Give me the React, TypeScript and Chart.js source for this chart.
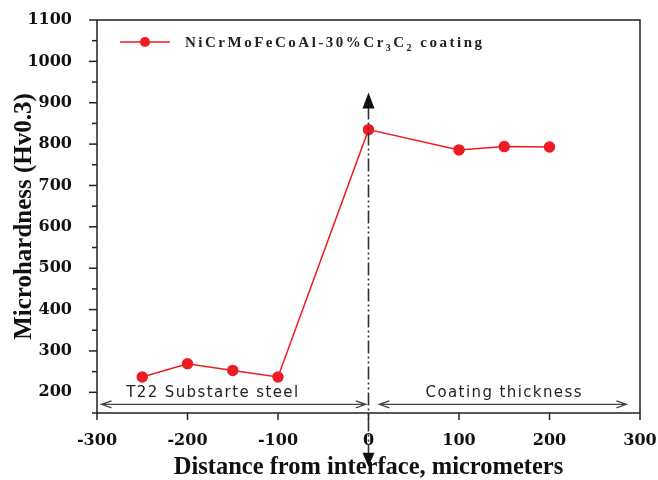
import React, { useEffect, useRef } from "react";
import { Chart, registerables } from "chart.js";

Chart.register(...registerables);

const distances = [-250, -200, -150, -100, 0, 100, 150, 200];
const hardness = [237, 269, 253, 237, 835, 786, 794, 793];
const seriesName = ["NiCrMoFeCoAl-30%Cr", "3", "C", "2", " coating"];
const xTickValues = [-300, -200, -100, 0, 100, 200, 300];
const yLabelValues = [200, 300, 400, 500, 600, 700, 800, 900, 1000, 1100];
const regionLabels = ["T22 Substarte steel", "Coating thickness"];
const regionCenters = [-172, 150];
const regionSpans = [[-295, -3], [12, 285]];
const interfaceSpan = [925, 20];

const RED = "#ed1c24";
const DARK = "#222";

const zeroPad = (s: any) => {
  s.paddingTop = 0;
  s.paddingBottom = 0;
  s.paddingLeft = 0;
  s.paddingRight = 0;
};

const overlay = {
  id: "overlay",
  afterDraw(chart: any) {
    const { ctx, chartArea: a, scales } = chart;
    const xs = scales.x;
    const ys = scales.y;
    ctx.save();
    // frame
    ctx.strokeStyle = DARK;
    ctx.lineWidth = 1.5;
    ctx.strokeRect(a.left, a.top, a.right - a.left, a.bottom - a.top);
    // y ticks
    ys.ticks.forEach((t: any) => {
      const y = ys.getPixelForValue(t.value);
      const major = yLabelValues.includes(t.value);
      ctx.beginPath();
      ctx.moveTo(a.left, y);
      ctx.lineTo(a.left - (major ? 8 : 5), y);
      ctx.stroke();
    });
    // x ticks
    xTickValues.forEach((v) => {
      const x = xs.getPixelForValue(v);
      ctx.beginPath();
      ctx.moveTo(x, a.bottom);
      ctx.lineTo(x, a.bottom + 7);
      ctx.stroke();
    });

    // interface dash-dot line
    const x0 = xs.getPixelForValue(0);
    const yTop = ys.getPixelForValue(interfaceSpan[0]);
    const yBot = ys.getPixelForValue(interfaceSpan[1]);
    ctx.strokeStyle = "#333";
    ctx.lineWidth = 1.6;
    ctx.setLineDash([13, 3, 2, 3, 2, 3]);
    ctx.beginPath();
    ctx.moveTo(x0, yTop + 14);
    ctx.lineTo(x0, yBot - 12);
    ctx.stroke();
    ctx.setLineDash([]);
    ctx.fillStyle = "#111";
    ctx.beginPath();
    ctx.moveTo(x0, yTop);
    ctx.lineTo(x0 - 6, yTop + 16);
    ctx.lineTo(x0 + 6, yTop + 16);
    ctx.closePath();
    ctx.fill();
    ctx.beginPath();
    ctx.moveTo(x0, yBot);
    ctx.lineTo(x0 - 6, yBot - 14);
    ctx.lineTo(x0 + 6, yBot - 14);
    ctx.closePath();
    ctx.fill();

    // region arrows
    const yArr = ys.getPixelForValue(171);
    ctx.strokeStyle = "#444";
    ctx.lineWidth = 1.3;
    regionSpans.forEach(([s, e]) => {
      const x1 = xs.getPixelForValue(s);
      const x2 = xs.getPixelForValue(e);
      ctx.beginPath();
      ctx.moveTo(x1, yArr);
      ctx.lineTo(x2, yArr);
      ctx.moveTo(x1 + 10, yArr - 3.5);
      ctx.lineTo(x1, yArr);
      ctx.lineTo(x1 + 10, yArr + 3.5);
      ctx.moveTo(x2 - 10, yArr - 3.5);
      ctx.lineTo(x2, yArr);
      ctx.lineTo(x2 - 10, yArr + 3.5);
      ctx.stroke();
    });
    ctx.fillStyle = "#222";
    ctx.font = "15px 'DejaVu Sans'";
    (ctx as any).letterSpacing = "1.4px";
    ctx.textAlign = "center";
    ctx.textBaseline = "alphabetic";
    const yTxt = ys.getPixelForValue(188);
    regionLabels.forEach((txt, i) => {
      ctx.fillText(txt, xs.getPixelForValue(regionCenters[i]), yTxt);
    });

    // legend
    const ly = 42;
    ctx.strokeStyle = RED;
    ctx.lineWidth = 1.5;
    ctx.beginPath();
    ctx.moveTo(120, ly);
    ctx.lineTo(170, ly);
    ctx.stroke();
    ctx.fillStyle = RED;
    ctx.beginPath();
    ctx.arc(145, ly, 5, 0, Math.PI * 2);
    ctx.fill();
    ctx.fillStyle = "#222";
    ctx.textAlign = "left";
    (ctx as any).letterSpacing = "2.5px";
    let x = 185;
    seriesName.forEach((part, i) => {
      const sub = i === 1 || i === 3;
      ctx.font = sub ? "bold 10px 'Liberation Serif'" : "bold 15px 'Liberation Serif'";
      ctx.fillText(part, x, sub ? ly + 9 : ly + 5);
      x += ctx.measureText(part).width;
    });
    ctx.restore();
  },
};

export default function App() {
  const ref = useRef<HTMLCanvasElement | null>(null);
  useEffect(() => {
    document.body.style.margin = "0";
    const chart = new Chart(ref.current as HTMLCanvasElement, {
      type: "line",
      data: {
        datasets: [
          {
            label: seriesName.join(""),
            data: distances.map((d, i) => ({ x: d, y: hardness[i] })),
            borderColor: RED,
            backgroundColor: RED,
            borderWidth: 1.5,
            pointRadius: 5,
            pointHoverRadius: 5,
            pointBackgroundColor: RED,
            pointBorderColor: RED,
            tension: 0,
          },
        ],
      },
      options: {
        animation: false,
        responsive: false,
        layout: { padding: { top: 20, right: 18, left: 0, bottom: 0 } },
        plugins: { legend: { display: false }, tooltip: { enabled: false } },
        scales: {
          x: {
            type: "linear",
            min: -300,
            max: 300,
            afterBuildTicks: (s: any) => {
              s.ticks = xTickValues.map((v) => ({ value: v }));
            },
            afterFit: (s: any) => {
              s.height = 67;
              zeroPad(s);
            },
            grid: { display: false },
            border: { display: false },
            ticks: {
              color: "#111",
              font: { family: "'DejaVu Serif'", weight: "bold", size: 16 },
              padding: 10,
              maxRotation: 0,
              callback: (v: any) => String(v),
            },
            title: {
              display: true,
              text: "Distance from interface, micrometers",
              color: "#111",
              font: { family: "'Liberation Serif'", weight: "bold", size: 24.5, lineHeight: 1.0 },
              padding: { top: 0, bottom: 0 },
            },
          },
          y: {
            type: "linear",
            min: 150,
            max: 1100,
            afterFit: (s: any) => {
              s.width = 97;
              zeroPad(s);
            },
            grid: { display: false },
            border: { display: false },
            ticks: {
              stepSize: 50,
              maxTicksLimit: 40,
              autoSkip: false,
              color: "#111",
              font: { family: "'DejaVu Serif'", weight: "bold", size: 16 },
              padding: 17,
              callback: (v: any) => (yLabelValues.includes(Number(v)) ? String(v) : ""),
            },
            title: {
              display: true,
              text: "Microhardness (Hv0.3)",
              color: "#111",
              font: { family: "'Liberation Serif'", weight: "bold", size: 25 },
              padding: { top: 10, bottom: 0 },
            },
          },
        },
      },
      plugins: [overlay],
    });
    return () => chart.destroy();
  }, []);
  return <canvas ref={ref} width={658} height={480} style={{ display: "block" }} />;
}
